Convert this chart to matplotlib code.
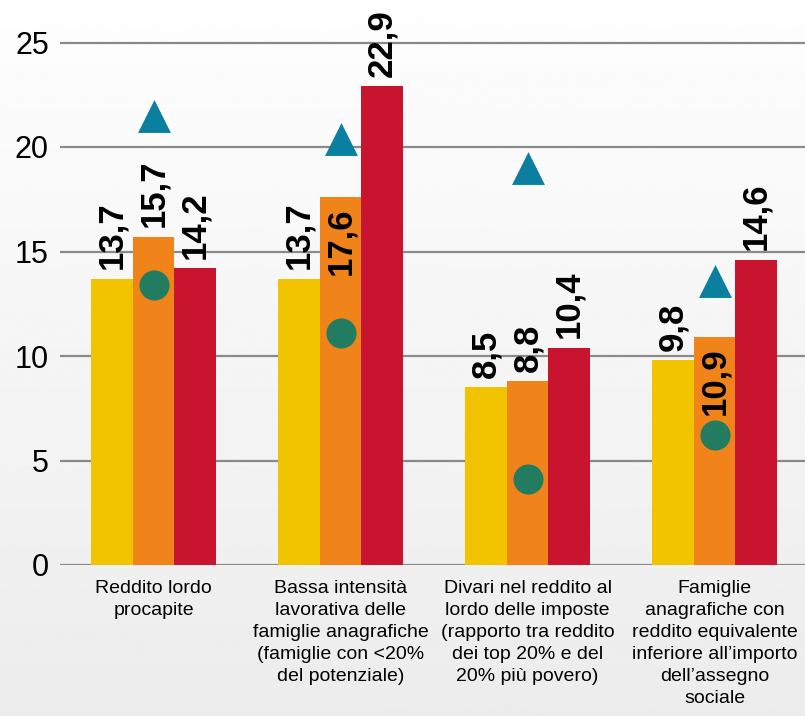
import numpy as np
import matplotlib.pyplot as plt

plt.rcParams['font.family'] = ['Liberation Sans', 'DejaVu Sans']

categories = [
    "Reddito lordo\nprocapite",
    "Bassa intensità\nlavorativa delle\nfamiglie anagrafiche\n(famiglie con <20%\ndel potenziale)",
    "Divari nel reddito al\nlordo delle imposte\n(rapporto tra reddito\ndei top 20% e del\n20% più povero)",
    "Famiglie\nanagrafiche con\nreddito equivalente\ninferiore all\u2019importo\ndell\u2019assegno\nsociale",
]
serie_a = [13.7, 13.7, 8.5, 9.8]
serie_b = [15.7, 17.6, 8.8, 10.9]
serie_c = [14.2, 22.9, 10.4, 14.6]
triangoli = [21.5, 20.4, 19.0, 13.6]
cerchi = [13.4, 11.1, 4.1, 6.2]
yticks = [0, 5, 10, 15, 20, 25]

col_a = "#F2C400"
col_b = "#F0841A"
col_c = "#C8142F"
col_tri = "#0B7FA0"
col_cer = "#217C60"

fig = plt.figure(figsize=(8.05, 7.16), dpi=100)

# sfondo sfumato dal bianco al grigio chiaro
bg = fig.add_axes([0, 0, 1, 1], zorder=-10)
grad = np.linspace(0.995, 0.925, 256).reshape(-1, 1)
bg.imshow(grad, aspect='auto', cmap='gray', vmin=0, vmax=1,
          extent=[0, 1, 0, 1])
bg.axis('off')

ax = fig.add_axes([60 / 805, 151 / 716, 745 / 805, 565 / 716])
ax.patch.set_alpha(0)

x = np.arange(len(categories))
w = 0.222

def etichette(ax, xs, vals, inside=()):
    for i, (xx, v) in enumerate(zip(xs, vals)):
        txt = f"{v:.1f}".replace('.', ',')
        if i in inside:
            ax.text(xx, v - 0.5, txt, rotation=90, ha='center', va='top',
                    fontsize=25, fontweight='bold')
        else:
            ax.text(xx, v + 0.45, txt, rotation=90, ha='center', va='bottom',
                    fontsize=25, fontweight='bold')

ax.bar(x - w, serie_a, w, color=col_a, zorder=2)
ax.bar(x, serie_b, w, color=col_b, zorder=2)
ax.bar(x + w, serie_c, w, color=col_c, zorder=2)

etichette(ax, x - w, serie_a)
etichette(ax, x, serie_b, inside=(1, 3))
etichette(ax, x + w, serie_c)

ax.scatter(x, triangoli, marker='^', s=560, color=col_tri, zorder=3,
           linewidths=0)
ax.scatter(x, cerchi, marker='o', s=470, color=col_cer, zorder=3,
           linewidths=0)

ax.set_xlim(-0.5, 745 / 187 - 0.5)
ax.set_ylim(0, 565 / 20.9)
ax.set_yticks(yticks)
ax.set_yticklabels([str(t) for t in yticks], fontsize=22)
ax.yaxis.grid(True, color='#8a8a8a', linewidth=1.6, zorder=0)
ax.set_axisbelow(True)
ax.tick_params(axis='y', length=0, pad=8)
ax.tick_params(axis='x', length=0, pad=11)
ax.set_xticks(x)
ax.set_xticklabels(categories, fontsize=14, linespacing=1.38)
for s in ax.spines.values():
    s.set_visible(False)

fig.savefig('out.png', dpi=100)
